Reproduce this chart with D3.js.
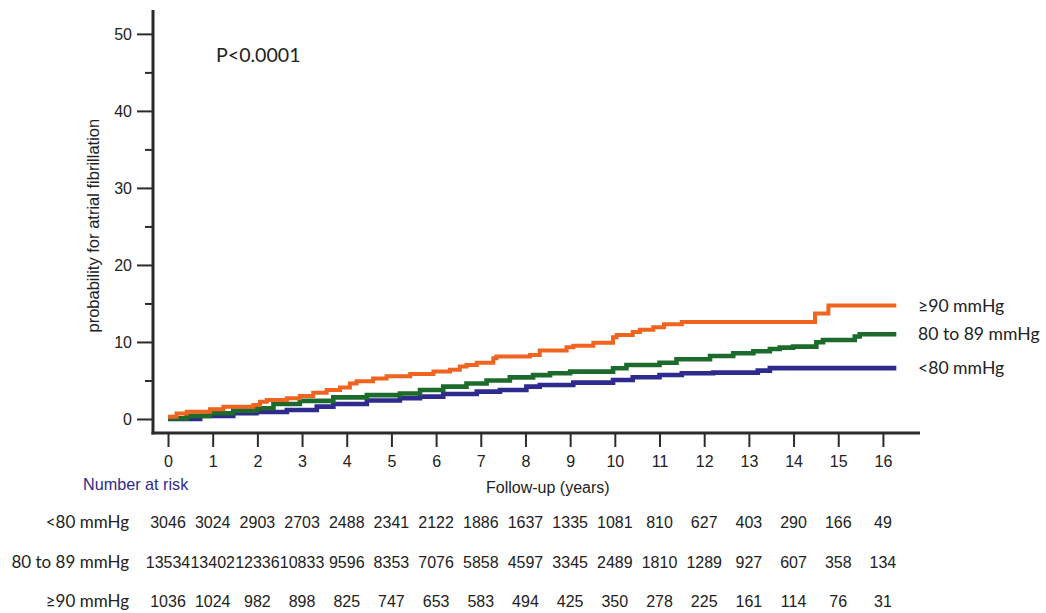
<!DOCTYPE html>
<html>
<head>
<meta charset="utf-8">
<script src="https://cdn.jsdelivr.net/npm/d3@7/dist/d3.min.js"></script>
<style>
  html, body { margin: 0; padding: 0; background: #fff; }
  svg { display: block; }
</style>
</head>
<body>
<svg id="chart" width="1046" height="613"></svg>
<script>
// Kaplan–Meier style cumulative probability of atrial fibrillation (%) by diastolic BP group.
// Each point: [follow-up year where the step begins, cumulative probability %]
const seriesBelow80 = [
  [0, 0], [0.72, 0.39], [1.46, 0.74], [1.98, 0.91], [2.66, 1.17], [3.33, 1.6], [3.7, 1.95],
  [4.45, 2.4], [5.19, 2.7], [5.64, 2.9], [6.16, 3.25], [6.91, 3.55], [7.43, 3.77], [8.02, 4.2],
  [8.32, 4.42], [9.07, 4.72], [9.96, 5.06], [10.4, 5.41], [11.0, 5.71], [11.5, 5.93],
  [12.2, 6.02], [13.2, 6.28], [13.47, 6.6], [16.3, 6.6]
];
const series80to89 = [
  [0, 0.08], [0.42, 0.4], [0.94, 0.74], [1.46, 1.08], [1.98, 1.4], [2.36, 1.95], [2.95, 2.35],
  [3.7, 2.8], [4.45, 3.1], [5.19, 3.3], [5.64, 3.77], [6.16, 4.2], [6.68, 4.6], [7.13, 5.0],
  [7.65, 5.4], [8.17, 5.7], [8.55, 5.93], [9.0, 6.15], [9.96, 6.58], [10.26, 7.0], [11.0, 7.3],
  [11.38, 7.75], [12.13, 8.18], [12.65, 8.53], [13.1, 8.8], [13.47, 9.09], [13.69, 9.26],
  [13.99, 9.4], [14.51, 9.96], [14.66, 10.26], [15.37, 10.7], [15.48, 11.0], [16.3, 11.0]
];
const series90plus = [
  [0, 0.3], [0.19, 0.7], [0.42, 0.95], [0.94, 1.25], [1.24, 1.6], [1.91, 1.8], [2.06, 2.25],
  [2.21, 2.45], [2.66, 2.7], [2.95, 3.0], [3.25, 3.4], [3.55, 3.75], [3.85, 4.1], [4.07, 4.6],
  [4.22, 4.9], [4.59, 5.25], [4.89, 5.55], [5.42, 5.85], [5.94, 6.15], [6.31, 6.4], [6.53, 6.8],
  [6.68, 7.0], [6.91, 7.3], [7.28, 7.9], [7.35, 8.1], [8.1, 8.3], [8.32, 8.9], [8.92, 9.3],
  [9.07, 9.5], [9.52, 9.9], [9.96, 10.6], [10.04, 10.9], [10.4, 11.3], [10.56, 11.6],
  [10.86, 11.9], [11.1, 12.3], [11.5, 12.6], [14.48, 13.7], [14.78, 14.75], [16.3, 14.75]
];

const groupLabels = ["<80 mmHg", "80 to 89 mmHg", "\u226590 mmHg"];
const groupColors = ["#2f2a8e", "#1d6b2c", "#f0641f"];

const yearTicks = d3.range(0, 17);
const yMajorTicks = [0, 10, 20, 30, 40, 50];
const yMinorTicks = [5, 15, 25, 35, 45];

// Number at risk at each yearly tick
const atRiskBelow80 = [3046, 3024, 2903, 2703, 2488, 2341, 2122, 1886, 1637, 1335, 1081, 810, 627, 403, 290, 166, 49];
const atRisk80to89 = [13534, 13402, 12336, 10833, 9596, 8353, 7076, 5858, 4597, 3345, 2489, 1810, 1289, 927, 607, 358, 134];
const atRisk90plus = [1036, 1024, 982, 898, 825, 747, 653, 583, 494, 425, 350, 278, 225, 161, 114, 76, 31];

const svg = d3.select("#chart");
const axisColor = "#2b2b2b";
const arial = "'Liberation Sans', Arial, sans-serif";
const soft = "Lato, 'Noto Sans', sans-serif";

// Scales: domains run slightly past 0 so the axes meet below/left of the origin.
const x = d3.scaleLinear().domain([-0.336, 16.83]).range([153, 920]);
const y = d3.scaleLinear().domain([-1.82, 53.1]).range([433, 10]);

// Y axis: major and minor ticks
svg.append("g").attr("transform", `translate(${x(-0.336)},0)`)
  .call(d3.axisLeft(y).tickValues(yMajorTicks).tickSize(16).tickPadding(5).tickSizeOuter(0));
svg.append("g").attr("transform", `translate(${x(-0.336)},0)`)
  .call(d3.axisLeft(y).tickValues(yMinorTicks).tickSize(8).tickFormat(""));

// X axis
svg.append("g").attr("transform", `translate(0,${y(-1.82)})`)
  .call(d3.axisBottom(x).tickValues(yearTicks).tickSize(14).tickPadding(9).tickSizeOuter(0));

svg.selectAll(".domain").remove();
svg.selectAll(".tick line").attr("stroke", axisColor).attr("stroke-width", 2);
svg.selectAll(".tick text").attr("fill", "#222").style("font-family", arial).style("font-size", "16px");

// Axis lines
svg.append("line")
  .attr("x1", x(-0.336)).attr("x2", x(-0.336)).attr("y1", y(53.1)).attr("y2", y(-1.82) + 1.5)
  .attr("stroke", axisColor).attr("stroke-width", 3);
svg.append("line")
  .attr("x1", x(-0.336) - 1.5).attr("x2", x(16.83)).attr("y1", y(-1.82)).attr("y2", y(-1.82))
  .attr("stroke", axisColor).attr("stroke-width", 3);

// Y axis title
svg.append("text")
  .attr("transform", `translate(99,${y(25.1)}) rotate(-90)`)
  .attr("text-anchor", "middle")
  .style("font-family", arial).style("font-size", "16.5px").attr("fill", "#222")
  .text("probability for atrial fibrillation");

// Curves
const line = d3.line().x(d => x(d[0])).y(d => y(d[1])).curve(d3.curveStepAfter);
const allSeries = [seriesBelow80, series80to89, series90plus];
const widths = [4.6, 4.6, 4];
allSeries.forEach((s, i) => {
  svg.append("path").datum(s)
    .attr("d", line)
    .attr("fill", "none")
    .attr("stroke", groupColors[i])
    .attr("stroke-width", widths[i])
    .attr("stroke-linejoin", "miter");
});

// End-of-curve labels
allSeries.forEach((s, i) => {
  const last = s[s.length - 1];
  svg.append("text")
    .attr("x", 918)
    .attr("y", y(last[1]))
    .attr("dy", "0.35em")
    .style("font-family", soft).style("font-size", "17.6px").attr("fill", "#222")
    .text(groupLabels[i]);
});

// P value
svg.append("text")
  .attr("x", 216).attr("y", 62)
  .style("font-family", soft).style("font-size", "19.6px").attr("fill", "#222")
  .text("P<0.0001");

// Axis label and risk table heading
svg.append("text")
  .attr("x", x(8.5)).attr("y", 493)
  .attr("text-anchor", "middle")
  .style("font-family", arial).style("font-size", "16px").attr("fill", "#222")
  .text("Follow-up (years)");
svg.append("text")
  .attr("x", 83).attr("y", 490)
  .style("font-family", arial).style("font-size", "16.2px").attr("fill", "#2f2a8e")
  .text("Number at risk");

// Number at risk rows
const riskRows = [atRiskBelow80, atRisk80to89, atRisk90plus];
const rowBaselines = [528, 568, 607];
riskRows.forEach((row, i) => {
  svg.append("text")
    .attr("x", 129).attr("y", rowBaselines[i])
    .attr("text-anchor", "end")
    .style("font-family", soft).style("font-size", "17px").attr("fill", "#222")
    .text(groupLabels[i]);
  svg.append("g").selectAll("text").data(row).join("text")
    .attr("x", (d, j) => x(yearTicks[j]))
    .attr("y", rowBaselines[i])
    .attr("text-anchor", "middle")
    .style("font-family", arial).style("font-size", "16px").attr("fill", "#222")
    .text(d => d);
});
</script>
</body>
</html>
